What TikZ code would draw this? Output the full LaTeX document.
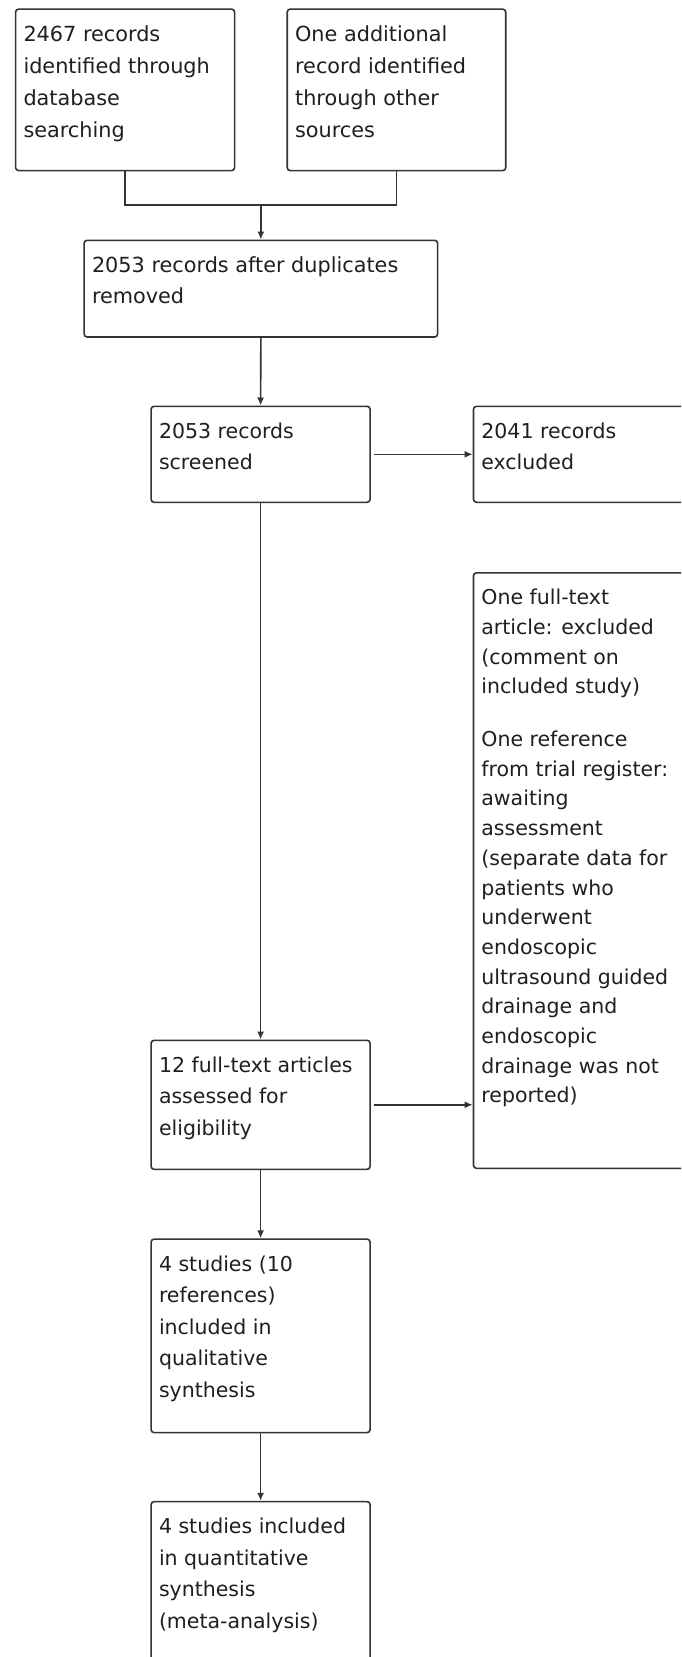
\documentclass[tikz,border=0pt]{standalone}
\usepackage{fontspec}
\setmainfont{DejaVu Sans}
\usetikzlibrary{arrows.meta}
\begin{document}
\begin{tikzpicture}[x=1pt,y=-1pt,
  box/.style={draw=black!80, line width=1.6pt, rounded corners=3pt, inner sep=0pt, anchor=north west},
  txt/.style={anchor=north west, inner sep=0pt, align=left, font=\fontsize{20.5}{31.5}\selectfont, text=black!88},
  tight/.style={font=\fontsize{20.5}{29.7}\selectfont},
  arr/.style={draw=black!80, line width=1.6pt, -{Latex[length=8pt,width=7pt]}},
  ln/.style={draw=black!80, line width=1.6pt}]
\useasboundingbox (0,0) rectangle (681,1657);
\clip (0,0) rectangle (681,1657);
\fill[white] (0,0) rectangle (681,1657);
% boxes
\node[box, minimum width=219pt, minimum height=161.5pt] (b1) at (14.8,8.3) {};
\node[box, minimum width=218.5pt, minimum height=161.5pt] (b2) at (286.4,8.3) {};
\node[box, minimum width=353.5pt, minimum height=96.7pt] (b3) at (83.3,239.5) {};
\node[box, minimum width=219pt, minimum height=96pt] (b4) at (150.3,405.5) {};
\node[box, minimum width=218pt, minimum height=96pt] (b5) at (472.7,405.5) {};
\node[box, minimum width=218pt, minimum height=595.5pt] (b6) at (472.7,572) {};
\node[box, minimum width=219pt, minimum height=129pt] (b7) at (150.3,1039.5) {};
\node[box, minimum width=219pt, minimum height=193.5pt] (b8) at (150.3,1238.3) {};
\node[box, minimum width=219pt, minimum height=193pt] (b9) at (150.3,1500.8) {};
% texts
\node[txt, font=\fontsize{20.8}{32.2}\selectfont] (t1) at ([xshift=8.5pt,yshift=-10.5pt]b1.north west) {\rule{0pt}{22pt}2467 records\\identified through\\database\\searching};
\node[txt, font=\fontsize{20.8}{32.2}\selectfont] (t2) at ([xshift=8.5pt,yshift=-10.5pt]b2.north west) {\rule{0pt}{22pt}One additional\\record identified\\through other\\sources};
\node[txt, font=\fontsize{20.8}{31.5}\selectfont] (t3) at ([xshift=8.5pt,yshift=-10.5pt]b3.north west) {\rule{0pt}{22pt}2053 records after duplicates\\removed};
\node[txt] (t4) at ([xshift=8.5pt,yshift=-10.5pt]b4.north west) {\rule{0pt}{22pt}2053 records\\screened};
\node[txt] (t5) at ([xshift=8.5pt,yshift=-10.5pt]b5.north west) {\rule{0pt}{22pt}2041 records\\excluded};
\node[txt, tight] (t6) at ([xshift=8.5pt,yshift=-10.5pt]b6.north west) {\rule{0pt}{22pt}One full-text\\article: excluded\\(comment on\\included study)\\[23pt]One reference\\from trial register:\\awaiting\\assessment\\(separate data for\\patients who\\underwent\\endoscopic\\ultrasound guided\\drainage and\\endoscopic\\drainage was not\\reported)};
\node[txt] (t7) at ([xshift=8.5pt,yshift=-10.5pt]b7.north west) {\rule{0pt}{22pt}12 full-text articles\\assessed for\\eligibility};
\node[txt] (t8) at ([xshift=8.5pt,yshift=-10.5pt]b8.north west) {\rule{0pt}{22pt}4 studies (10\\references)\\included in\\qualitative\\synthesis};
\node[txt] (t9) at ([xshift=8.5pt,yshift=-10.5pt]b9.north west) {\rule{0pt}{22pt}4 studies included\\in quantitative\\synthesis\\(meta-analysis)};
% connectors
\coordinate (jy) at (0,205);
\coordinate (j) at (b3.north |- jy);
\draw[ln] (b1.south) |- (b2.south |- jy) -- (b2.south);
\draw[arr] (j) -- (b3.north);
\draw[arr] (b3.south) -- (b4.north);
\draw[arr, shorten <=3pt] (b4.east) -- (b5.west);
\draw[arr] (b4.south) -- (b7.north);
\draw[arr, shorten <=3pt] (b7.east) -- (b7.east -| b6.west);
\draw[arr] (b7.south) -- (b8.north);
\draw[arr] (b8.south) -- (b9.north);
\end{tikzpicture}
\end{document}
